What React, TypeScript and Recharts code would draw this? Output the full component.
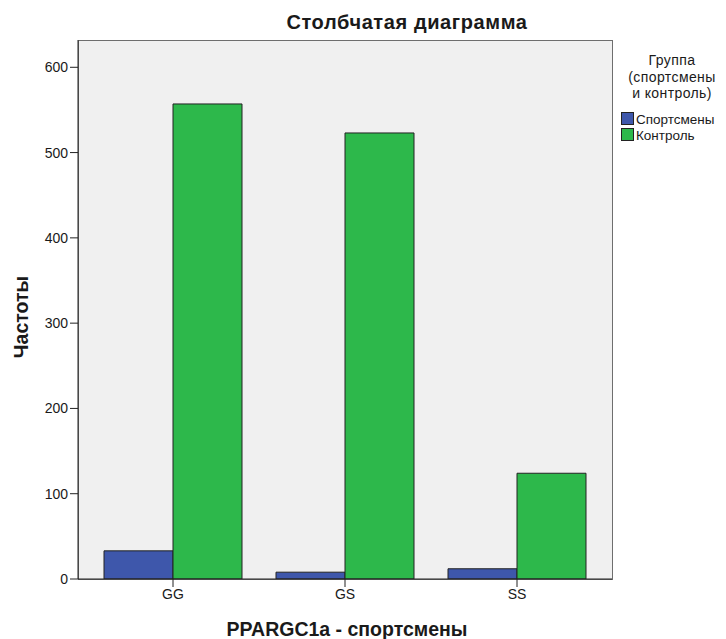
import { Bar, BarChart, XAxis, YAxis } from 'recharts';

const genotypes = ['GG', 'GS', 'SS'];
const athletes = [33, 8, 12];
const control = [557, 523, 124];
const yTicks = [0, 100, 200, 300, 400, 500, 600];
const legendTitle = ['Группа', '(спортсмены', 'и контроль)'];
const seriesNames = ['Спортсмены', 'Контроль'];

const rows = genotypes.map((g, i) => ({ name: g, athletes: athletes[i], control: control[i] }));

const FONT = '"Liberation Sans", Arial, sans-serif';
const BLUE = '#3e57ab';
const GREEN = '#2db84b';
const INK = '#1a1a1a';

export default function App() {
  const seriesColors = [BLUE, GREEN];
  return (
    <div style={{ position: 'relative', width: 718, height: 631, fontFamily: FONT }}>
      {/* plot background + frame */}
      <div
        style={{
          position: 'absolute',
          left: 70,
          top: 32,
          width: 533,
          height: 538,
          background: '#f0f0f0',
          border: '1px solid #6e6e6e',
        }}
      />
      <div style={{ position: 'absolute', left: 0, top: 0 }}>
        <BarChart
          width={718}
          height={631}
          data={rows}
          margin={{ top: 32, right: 114, left: 30, bottom: 30 }}
          barCategoryGap={17}
          barGap={0}
        >
          <XAxis
            dataKey="name"
            stroke="#222"
            tickSize={8}
            tickMargin={2}
            tick={{ fill: INK, fontSize: 14, fontFamily: FONT }}
            padding={{ left: 9, right: 9 }}
            height={30}
          />
          <YAxis
            domain={[0, 632]}
            ticks={yTicks}
            allowDataOverflow
            stroke="#222"
            tickSize={8}
            tickMargin={2}
            tick={{ fill: INK, fontSize: 14, fontFamily: FONT }}
            width={40}
          />
          <Bar dataKey="athletes" name={seriesNames[0]} fill={BLUE} stroke="#222" strokeWidth={1} isAnimationActive={false} />
          <Bar dataKey="control" name={seriesNames[1]} fill={GREEN} stroke="#222" strokeWidth={1} isAnimationActive={false} />
        </BarChart>
      </div>
      <svg
        width={718}
        height={631}
        style={{ position: 'absolute', left: 0, top: 0, pointerEvents: 'none', overflow: 'visible' }}
        fontFamily={FONT}
      >
        <text x={399} y={21} textAnchor="middle" fontSize={20} fontWeight="bold" fill={INK} letterSpacing={0.6}>
          Столбчатая диаграмма
        </text>
        <text x={339} y={628} textAnchor="middle" fontSize={19.5} fontWeight="bold" fill={INK}>
          PPARGC1a - спортсмены
        </text>
        <text
          x={20}
          y={309}
          textAnchor="middle"
          fontSize={19.5}
          fontWeight="bold"
          fill={INK}
          transform="rotate(-90 20 309)"
        >
          Частоты
        </text>
        {legendTitle.map((line, i) => (
          <text key={line} x={664} y={57 + i * 16.5} textAnchor="middle" fontSize={14} fill={INK} letterSpacing={0.4}>
            {line}
          </text>
        ))}
        {seriesNames.map((name, i) => (
          <g key={name}>
            <rect x={613.5} y={104.5 + i * 16} width={12} height={12} fill={seriesColors[i]} stroke="#222" />
            <text x={628} y={116 + i * 16} fontSize={13.5} fill={INK}>
              {name}
            </text>
          </g>
        ))}
      </svg>
    </div>
  );
}
